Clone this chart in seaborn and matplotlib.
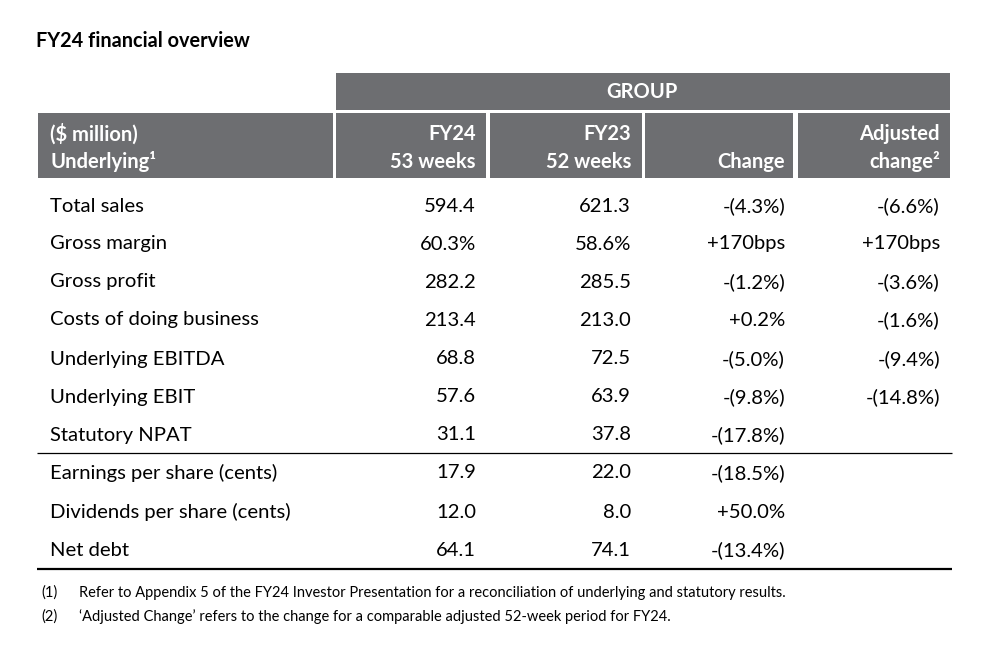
import matplotlib
matplotlib.use("Agg")
import matplotlib.pyplot as plt
import seaborn as sns

sns.set_theme(style="white")
plt.rcParams['font.family'] = ['Lato', 'DejaVu Sans']

title = "FY24 financial overview"
group_label = "GROUP"
header_left = ["($ million)", "Underlying\u00b9"]
col_headers = [["FY24", "53 weeks"], ["FY23", "52 weeks"], ["", "Change"], ["Adjusted", "change\u00b2"]]
labels = ["Total sales", "Gross margin", "Gross profit", "Costs of doing business",
          "Underlying EBITDA", "Underlying EBIT", "Statutory NPAT",
          "Earnings per share (cents)", "Dividends per share (cents)", "Net debt"]
fy24 = ["594.4", "60.3%", "282.2", "213.4", "68.8", "57.6", "31.1", "17.9", "12.0", "64.1"]
fy23 = ["621.3", "58.6%", "285.5", "213.0", "72.5", "63.9", "37.8", "22.0", "8.0", "74.1"]
change = ["-(4.3%)", "+170bps", "-(1.2%)", "+0.2%", "-(5.0%)", "-(9.8%)", "-(17.8%)",
          "-(18.5%)", "+50.0%", "-(13.4%)"]
adj_change = ["-(6.6%)", "+170bps", "-(3.6%)", "-(1.6%)", "-(9.4%)", "-(14.8%)", "", "", "", ""]
footnotes = [("(1)", "Refer to Appendix 5 of the FY24 Investor Presentation for a reconciliation of underlying and statutory results."),
             ("(2)", "\u2018Adjusted Change\u2019 refers to the change for a comparable adjusted 52-week period for FY24.")]

HDR = "#6d6e71"
TXT = "#000000"
W, H = 994, 649
fig = plt.figure(figsize=(W / 100, H / 100), dpi=100)
ax = fig.add_axes([0, 0, 1, 1])
ax.set_xlim(0, W)
ax.set_ylim(H, 0)
ax.axis("off")

body_fs = 14.6
hdr_fs = 14.5

ax.text(36, 41, title, fontsize=14.3, fontweight="bold", color="#000000", va="center", ha="left")

# header boxes
ax.add_patch(plt.Rectangle((336, 73), 614, 37, color=HDR, lw=0))
ax.text(642, 92, group_label, fontsize=hdr_fs, fontweight="bold", color="white", ha="center", va="center")
col_boxes = [(38, 333), (336, 486), (490, 642), (645, 793), (798, 950)]
for x0, x1 in col_boxes:
    ax.add_patch(plt.Rectangle((x0, 113), x1 - x0, 65, color=HDR, lw=0))
ax.text(50, 134.5, header_left[0], fontsize=hdr_fs, fontweight="bold", color="white", ha="left", va="center")
ax.text(50, 161.5, header_left[1], fontsize=hdr_fs, fontweight="bold", color="white", ha="left", va="center")
col_right = [476, 631, 785, 940]
for xr, (l1, l2) in zip(col_right, col_headers):
    if l1:
        ax.text(xr, 134.5, l1, fontsize=hdr_fs, fontweight="bold", color="white", ha="right", va="center")
    ax.text(xr, 161.5, l2, fontsize=hdr_fs, fontweight="bold", color="white", ha="right", va="center")

# body rows
row_y = [206, 244, 282, 320, 359, 397, 435, 473, 512, 550]
for i, y in enumerate(row_y):
    ax.text(50, y, labels[i], fontsize=body_fs, color=TXT, ha="left", va="center")
    for xr, col in zip(col_right, [fy24, fy23, change, adj_change]):
        if col[i]:
            ax.text(xr, y, col[i], fontsize=body_fs, color=TXT, ha="right", va="center")

ax.plot([37, 952], [452.5, 452.5], color="#000000", lw=0.9, solid_capstyle="butt")
ax.plot([37, 952], [568.5, 568.5], color="#000000", lw=1.6, solid_capstyle="butt")

for (num, txt), y in zip(footnotes, [592.5, 616.5]):
    ax.text(41, y, num, fontsize=10.5, color=TXT, ha="left", va="center")
    ax.text(79, y, txt, fontsize=10.5, color=TXT, ha="left", va="center")

fig.savefig("out.png", dpi=100, facecolor="white")
